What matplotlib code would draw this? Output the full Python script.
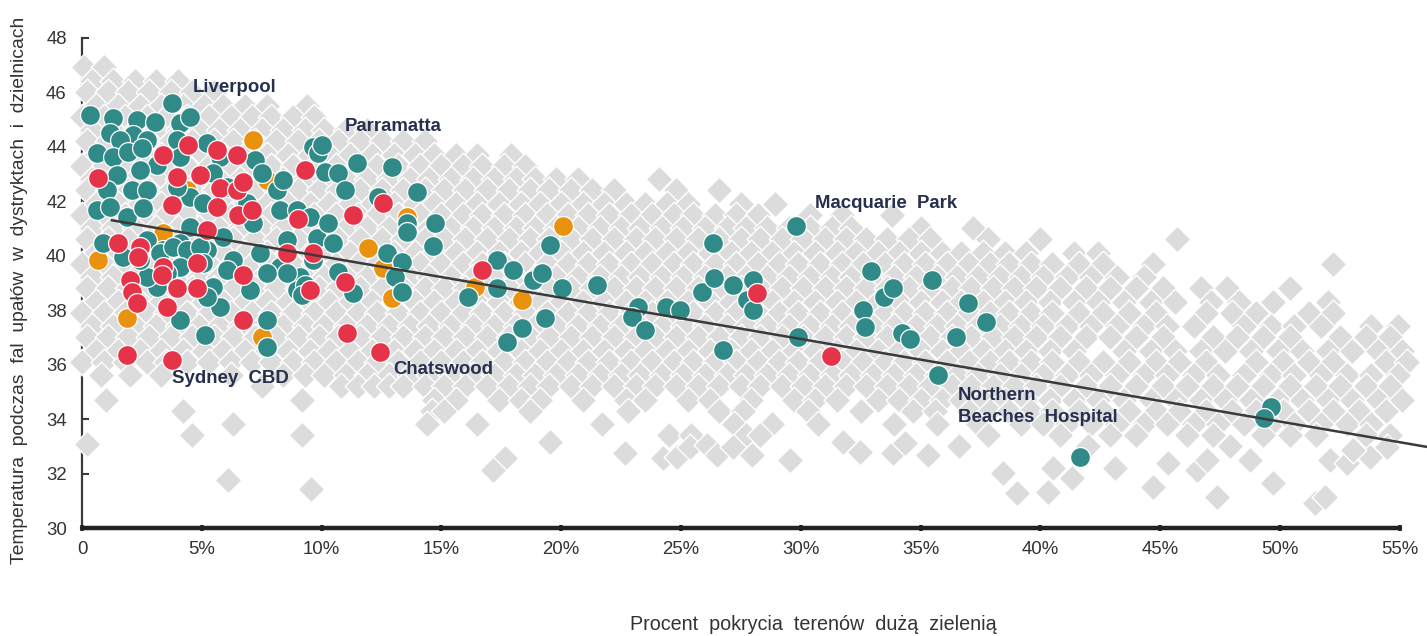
import matplotlib
matplotlib.use("Agg")
import matplotlib.pyplot as plt

# ---------------- data ----------------
# coloured circles (x = % green cover, y = temperature)
teal_x = [0.33, 3.76, 1.29, 2.3, 3.05, 4.09, 4.51, 1.17, 2.13, 2.71, 1.59, 0.63, 1.29, 1.92, 2.5, 3.97, 4.09, 3.13,
          1.46, 1.04, 2.09, 2.71, 2.42, 0.63, 1.17, 1.88, 2.55, 4.51, 5.05, 3.97, 5.22, 5.76, 7.22, 7.51, 8.14, 8.26,
          8.39, 9.64, 9.81, 4.51, 5.88, 4.09, 3.38, 0.88, 5.22, 7.43, 8.26, 6.3, 7.14, 6.89, 6.05, 5.47,
          1.71, 2.71, 3.26, 3.8, 4.38, 4.92, 5.05, 4.09, 3.55, 3.13, 2.71, 2.42, 6.05, 5.47, 5.76, 5.22, 4.09, 5.13,
          7.72, 7.01, 7.72, 7.72, 8.56, 9.1, 8.97, 9.64,
          9.85, 10.02, 10.14, 10.68, 10.98, 11.48, 12.94, 13.98, 12.35, 8.97, 9.52, 10.27, 10.48, 8.56, 9.31, 9.18,
          10.68, 11.31, 12.73, 13.36, 13.06, 13.36, 13.56, 13.56, 14.73, 14.65, 17.32, 17.99, 17.32, 16.11, 18.82,
          19.2, 20.03, 21.49, 19.53, 19.32, 18.36, 17.74,
          23.2, 22.95, 23.5, 24.37, 24.96, 25.88, 26.34, 26.38, 27.17, 28.0, 27.75, 28.0, 26.75, 29.8, 29.88, 32.93,
          32.6, 32.68, 33.47, 33.85, 34.22, 34.56, 35.48, 36.98, 36.48, 37.73, 35.73, 41.65, 49.62, 49.33]
teal_y = [45.16, 45.6, 45.05, 44.97, 44.9, 44.86, 45.08, 44.5, 44.42, 44.24, 44.24, 43.76, 43.61, 43.8, 43.94, 44.24,
          43.61, 43.32, 42.95, 42.4, 42.4, 42.4, 43.14, 41.67, 41.78, 41.41, 41.74, 42.15, 41.93, 42.51, 44.13, 43.61,
          43.5, 43.03, 42.4, 41.67, 42.77, 43.98, 40.64, 41.05, 40.68, 40.46, 40.2, 40.46, 40.2, 40.09, 39.58, 39.83,
          41.19, 41.93, 42.51, 43.03,
          39.94, 40.57, 40.09, 40.31, 40.2, 40.31, 39.72, 39.58, 39.36, 38.84, 39.21, 39.83, 39.47, 38.84, 38.11,
          38.48, 37.63, 37.08, 39.36, 38.73, 37.63, 36.64, 40.57, 39.21, 38.73, 39.83,
          43.76, 44.06, 43.06, 43.03, 42.4, 43.39, 43.25, 42.33, 42.15, 41.67, 41.41, 41.19, 40.46, 39.36, 38.92,
          38.55, 39.4, 38.62, 40.09, 39.76, 39.21, 38.66, 41.19, 40.86, 41.19, 40.35, 39.83, 39.47, 38.81, 38.48,
          39.1, 39.36, 38.81, 38.92, 40.39, 37.71, 37.34, 36.83,
          38.11, 37.74, 37.27, 38.11, 38.0, 38.66, 40.46, 39.17, 38.92, 39.1, 38.37, 38.0, 36.53, 41.08, 37.01, 39.43,
          38.0, 37.38, 38.48, 38.81, 37.16, 36.94, 39.1, 38.26, 37.01, 37.56, 35.61, 32.6, 34.44, 34.04]

red_x = [0.67, 3.38, 4.42, 5.63, 6.47, 3.97, 4.92, 5.76, 6.47, 6.72, 3.76, 5.63, 6.51, 7.1, 5.22, 1.5, 2.42, 9.02,
         9.31, 9.64, 8.56, 4.8, 3.38, 2.34, 2.0, 2.09, 2.3, 3.34, 3.97, 4.8, 3.55, 6.72, 6.72, 1.88, 3.76, 9.52,
         12.56, 11.31, 10.98, 11.06, 12.44, 16.69, 28.17, 31.26]
red_y = [42.84, 43.69, 44.06, 43.87, 43.69, 42.88, 42.95, 42.48, 42.4, 42.7, 41.85, 41.78, 41.49, 41.67, 40.94, 40.46,
         40.31, 41.34, 43.14, 40.09, 40.09, 39.72, 39.58, 39.94, 39.1, 38.66, 38.26, 39.28, 38.81, 38.81, 38.11,
         39.28, 37.63, 36.35, 36.17, 38.73, 41.93, 41.49, 39.03, 37.16, 36.46, 39.47, 38.62, 36.31]

orange_x = [7.14, 0.67, 4.38, 7.72, 3.38, 1.88, 7.51, 13.56, 11.94, 12.56, 12.94, 16.4, 18.36, 20.08]
orange_y = [44.24, 39.83, 42.4, 42.77, 40.83, 37.71, 37.01, 41.41, 40.28, 39.54, 38.44, 38.84, 38.37, 41.1]

# grey diamonds, read row by row (upper band / core band / lower band)
grey_upper_y = [46.9, 46.4, 46.0, 45.5, 45.1, 44.6, 44.2, 43.7, 43.3, 42.8, 42.4, 41.9, 41.5]
grey_upper_x = [
    [0.1, 0.9],
    [0.4, 1.3, 2.2, 3.1, 4.0],
    [0.2, 1.1, 1.9, 2.8, 3.7, 4.6, 5.5],
    [0.6, 1.5, 2.4, 3.3, 4.2, 5.1, 5.9, 6.8, 7.7, 9.4],
    [0.0, 0.9, 1.8, 2.7, 3.5, 4.4, 5.3, 6.2, 7.1, 7.9, 8.8, 9.7],
    [0.4, 1.3, 2.2, 3.1, 4.0, 4.9, 5.7, 6.6, 7.5, 8.4, 9.3, 10.1, 11.0, 11.9],
    [0.2, 1.1, 1.9, 2.8, 3.7, 4.6, 5.5, 6.3, 7.2, 8.1, 9.0, 9.9, 10.7, 11.6, 12.5, 13.4, 14.3],
    [0.6, 1.5, 2.4, 3.3, 4.2, 5.1, 5.9, 6.8, 7.7, 8.6, 9.5, 10.3, 11.2, 12.1, 13.0, 13.9, 14.7, 15.6, 16.5, 17.9],
    [0.0, 0.9, 1.8, 2.7, 3.5, 4.4, 5.3, 6.2, 7.1, 7.9, 8.8, 9.7, 10.6, 11.5, 12.3, 13.2, 14.1, 15.0, 15.9, 16.7,
     17.6, 18.5],
    [0.4, 1.3, 2.2, 3.1, 4.0, 4.9, 5.7, 6.6, 7.5, 8.4, 9.3, 10.1, 11.0, 11.9, 12.8, 13.7, 14.5, 15.4, 16.3, 17.2,
     18.1, 18.9, 19.8, 20.7, 24.1],
    [0.2, 1.1, 1.9, 2.8, 3.7, 4.6, 5.5, 6.3, 7.2, 8.1, 9.0, 9.9, 10.7, 11.6, 12.5, 13.4, 14.3, 15.1, 16.0, 16.9,
     17.8, 18.7, 19.5, 20.4, 21.3, 22.2, 24.8, 26.6],
    [0.6, 1.5, 2.4, 3.3, 4.2, 5.1, 5.9, 6.8, 7.7, 8.6, 9.5, 10.3, 11.2, 12.1, 13.0, 13.9, 14.7, 15.6, 16.5, 17.4,
     18.3, 19.1, 20.0, 20.9, 21.8, 22.7, 23.5, 24.4, 25.3, 27.5, 28.9],
    [0.0, 0.9, 1.8, 2.7, 3.5, 4.4, 5.3, 6.2, 7.1, 7.9, 8.8, 9.7, 10.6, 11.5, 12.3, 13.2, 14.1, 15.0, 15.9, 16.7,
     17.6, 18.5, 19.4, 20.3, 21.1, 22.0, 22.9, 23.8, 24.7, 25.5, 26.4, 27.3, 28.2, 30.4, 31.7, 33.8],
]

grey_core_y = [41.0, 40.6, 40.1, 39.7, 39.2, 38.8, 38.3, 37.9, 37.4, 37.0, 36.5, 36.1]
grey_core_x = [
    [0.4, 1.3, 2.2, 3.1, 4.0, 4.9, 5.7, 6.6, 7.5, 8.4, 9.3, 10.1, 11.0, 11.9, 12.8, 13.7, 14.5, 15.4, 16.3, 17.2,
     18.1, 18.9, 19.8, 20.7, 21.6, 22.5, 23.3, 24.2, 25.1, 26.0, 26.9, 27.7, 28.6, 29.5, 30.4, 31.3, 32.1, 35.0,
     37.2],
    [0.2, 1.1, 1.9, 2.8, 3.7, 4.6, 5.5, 6.3, 7.2, 8.1, 9.0, 9.9, 10.7, 11.6, 12.5, 13.4, 14.3, 15.1, 16.0, 16.9,
     17.8, 18.7, 19.5, 20.4, 21.3, 22.2, 23.1, 23.9, 24.8, 25.7, 26.6, 27.5, 28.3, 29.2, 30.1, 31.0, 31.9, 32.7,
     33.6, 34.5, 35.4, 37.8, 40.0, 45.7],
    [0.6, 1.5, 2.4, 3.3, 4.2, 5.1, 5.9, 6.8, 7.7, 8.6, 9.5, 10.3, 11.2, 12.1, 13.0, 13.9, 14.7, 15.6, 16.5, 17.4,
     18.3, 19.1, 20.0, 20.9, 21.8, 22.7, 23.5, 24.4, 25.3, 26.2, 27.1, 27.9, 28.8, 29.7, 30.6, 31.5, 32.3, 33.2,
     34.1, 35.0, 35.9, 36.7, 37.6, 38.5, 39.4, 41.4, 42.4],
    [0.0, 0.9, 1.8, 2.7, 3.5, 4.4, 5.3, 6.2, 7.1, 7.9, 8.8, 9.7, 10.6, 11.5, 12.3, 13.2, 14.1, 15.0, 15.9, 16.7,
     17.6, 18.5, 19.4, 20.3, 21.1, 22.0, 22.9, 23.8, 24.7, 25.5, 26.4, 27.3, 28.2, 29.1, 29.9, 30.8, 31.7, 32.6,
     33.5, 34.3, 35.2, 36.1, 37.0, 37.9, 38.7, 39.6, 40.5, 41.6, 42.6, 44.7, 52.2],
    [0.4, 1.3, 2.2, 3.1, 4.0, 4.9, 5.7, 6.6, 7.5, 8.4, 9.3, 10.1, 11.0, 11.9, 12.8, 13.7, 14.5, 15.4, 16.3, 17.2,
     18.1, 18.9, 19.8, 20.7, 21.6, 22.5, 23.3, 24.2, 25.1, 26.0, 26.9, 27.7, 28.6, 29.5, 30.4, 31.3, 32.1, 33.0,
     33.9, 34.8, 35.7, 36.5, 37.4, 38.3, 39.2, 40.1, 41.1, 42.1, 43.2, 44.3],
    [0.2, 1.1, 1.9, 2.8, 3.7, 4.6, 5.5, 6.3, 7.2, 8.1, 9.0, 9.9, 10.7, 11.6, 12.5, 13.4, 14.3, 15.1, 16.0, 16.9,
     17.8, 18.7, 19.5, 20.4, 21.3, 22.2, 23.1, 23.9, 24.8, 25.7, 26.6, 27.5, 28.3, 29.2, 30.1, 31.0, 31.9, 32.7,
     33.6, 34.5, 35.4, 36.3, 37.1, 38.0, 38.9, 39.8, 40.8, 41.9, 42.9, 44.0, 45.1, 46.7, 47.8, 50.4],
    [0.6, 1.5, 2.4, 3.3, 4.2, 5.1, 5.9, 6.8, 7.7, 8.6, 9.5, 10.3, 11.2, 12.1, 13.0, 13.9, 14.7, 15.6, 16.5, 17.4,
     18.3, 19.1, 20.0, 20.9, 21.8, 22.7, 23.5, 24.4, 25.3, 26.2, 27.1, 27.9, 28.8, 29.7, 30.6, 31.5, 32.3, 33.2,
     34.1, 35.0, 35.9, 36.7, 37.6, 38.5, 39.4, 40.4, 41.4, 42.4, 43.5, 44.6, 45.6, 47.1, 48.3, 49.7, 52.0],
    [0.0, 0.9, 1.8, 2.7, 3.5, 4.4, 5.3, 6.2, 7.1, 7.9, 8.8, 9.7, 10.6, 11.5, 12.3, 13.2, 14.1, 15.0, 15.9, 16.7,
     17.6, 18.5, 19.4, 20.3, 21.1, 22.0, 22.9, 23.8, 24.7, 25.5, 26.4, 27.3, 28.2, 29.1, 29.9, 30.8, 31.7, 32.6,
     33.5, 34.3, 35.2, 36.1, 37.0, 37.9, 38.7, 39.6, 40.5, 41.6, 42.6, 43.7, 44.8, 46.9, 48.0, 49.0, 51.2, 52.2],
    [0.4, 1.3, 2.2, 3.1, 4.0, 4.9, 5.7, 6.6, 7.5, 8.4, 9.3, 10.1, 11.0, 11.9, 12.8, 13.7, 14.5, 15.4, 16.3, 17.2,
     18.1, 18.9, 19.8, 20.7, 21.6, 22.5, 23.3, 24.2, 25.1, 26.0, 26.9, 27.7, 28.6, 29.5, 30.4, 31.3, 32.1, 33.0,
     33.9, 34.8, 35.7, 36.5, 37.4, 38.3, 39.2, 40.1, 41.1, 42.1, 43.2, 44.3, 45.3, 46.4, 48.5, 49.6, 50.6, 51.7,
     53.8, 54.9],
    [0.2, 1.1, 1.9, 2.8, 3.7, 4.6, 5.5, 6.3, 7.2, 8.1, 9.0, 9.9, 10.7, 11.6, 12.5, 13.4, 14.3, 15.1, 16.0, 16.9,
     17.8, 18.7, 19.5, 20.4, 21.3, 22.2, 23.1, 23.9, 24.8, 25.7, 26.6, 27.5, 28.3, 29.2, 30.1, 31.0, 31.9, 32.7,
     33.6, 34.5, 35.4, 36.3, 37.1, 38.0, 38.9, 39.8, 40.8, 41.9, 42.9, 44.0, 45.1, 47.2, 48.2, 49.3, 50.4, 52.5,
     53.6, 54.6],
    [0.6, 1.5, 2.4, 3.3, 4.2, 5.1, 5.9, 6.8, 7.7, 8.6, 9.5, 10.3, 11.2, 12.1, 13.0, 13.9, 14.7, 15.6, 16.5, 17.4,
     18.3, 19.1, 20.0, 20.9, 21.8, 22.7, 23.5, 24.4, 25.3, 26.2, 27.1, 27.9, 28.8, 29.7, 30.6, 31.5, 32.3, 33.2,
     34.1, 35.0, 35.9, 36.7, 37.6, 38.5, 39.4, 40.4, 41.4, 43.5, 44.6, 45.6, 46.7, 47.7, 48.8, 49.9, 50.9, 52.0,
     53.0, 54.1, 55.1],
    [0.0, 0.9, 1.8, 2.7, 3.5, 4.4, 5.3, 6.2, 7.1, 7.9, 8.8, 9.7, 10.6, 11.5, 12.3, 13.2, 14.1, 15.0, 15.9, 16.7,
     17.6, 18.5, 19.4, 20.3, 21.1, 22.0, 22.9, 23.8, 24.7, 25.5, 26.4, 27.3, 28.2, 29.1, 29.9, 30.8, 31.7, 32.6,
     33.5, 34.3, 35.2, 36.1, 37.0, 37.9, 38.7, 39.6, 40.5, 41.6, 42.6, 43.7, 44.8, 45.8, 46.9, 49.0, 50.1, 51.2,
     52.2, 54.4, 55.3],
]

grey_lower_y = [35.6, 35.2, 34.7, 34.3, 33.8, 33.4]
grey_lower_x = [
    [0.8, 2.0, 3.3, 6.2, 8.4, 9.3, 10.1, 11.0, 11.9, 12.8, 13.7, 14.5, 15.4, 16.3, 17.2, 18.1, 18.9, 19.8, 20.7,
     21.6, 22.5, 23.3, 24.2, 25.1, 26.0, 26.9, 27.7, 28.6, 29.5, 30.4, 31.3, 32.1, 33.0, 33.9, 34.8, 35.7, 36.5,
     37.4, 38.3, 39.2, 40.1, 41.1, 42.1, 43.2, 44.3, 45.3, 46.4, 47.4, 48.5, 49.6, 50.6, 51.7, 52.8, 53.8, 54.9],
    [7.5, 10.8, 11.5, 12.2, 12.8, 13.4, 14.3, 15.1, 16.0, 16.9, 17.8, 18.7, 19.5, 20.4, 21.3, 22.2, 23.1, 23.9,
     24.8, 25.7, 26.6, 27.5, 28.3, 29.2, 30.1, 31.0, 31.9, 32.7, 33.6, 34.5, 35.4, 36.3, 37.1, 38.0, 38.9, 39.8,
     40.8, 41.9, 42.9, 44.0, 45.1, 46.1, 47.2, 48.2, 49.3, 50.4, 51.5, 52.5, 53.6, 54.6],
    [1.0, 9.2, 14.7, 15.6, 17.4, 18.3, 19.1, 20.9, 22.7, 23.5, 25.3, 26.2, 27.9, 29.7, 30.6, 31.5, 33.2, 34.1,
     35.0, 35.9, 36.7, 37.6, 38.5, 39.4, 40.4, 41.4, 42.4, 43.5, 44.6, 45.6, 46.7, 47.7, 48.8, 49.9, 50.9, 52.0,
     53.0, 54.1, 55.1],
    [4.2, 14.6, 15.1, 18.7, 22.8, 26.6, 27.6, 30.3, 32.5, 34.7, 35.6, 37.0, 37.9, 38.7, 39.6, 40.5, 41.6, 42.6,
     43.7, 44.8, 45.8, 46.9, 48.0, 49.0, 50.1, 51.2, 52.2, 53.3, 54.4],
    [6.3, 14.4, 16.5, 21.7, 27.2, 28.8, 30.7, 33.9, 35.7, 37.4, 39.2, 40.1, 41.1, 42.1, 43.2, 44.3, 45.3, 46.4,
     47.4, 48.5, 49.6, 50.6, 51.7, 52.8, 53.8],
    [4.6, 9.2, 24.5, 25.4, 27.7, 28.3, 37.8, 40.8, 42.9, 44.0, 46.1, 47.2, 49.3, 50.4, 51.5, 53.6, 54.6],
]

# isolated grey diamonds below the main band
grey_sparse_x = [0.2, 6.1, 9.56, 17.65, 17.15, 19.53, 22.66, 24.25, 24.83, 25.38, 26.08, 26.5, 27.17, 27.96, 29.55,
                 31.76, 32.47, 33.85, 34.35, 35.31, 38.44, 39.02, 40.32, 40.53, 41.32, 43.1, 42.0, 44.7, 45.33, 46.54,
                 46.95, 47.37, 49.71, 51.46, 51.88, 48.75, 52.09, 52.8, 53.76, 54.47, 53.05, 36.6, 47.9]
grey_sparse_y = [33.1, 31.76, 31.43, 32.57, 32.13, 33.16, 32.75, 32.57, 32.6, 32.97, 33.05, 32.68, 32.97, 32.68, 32.5,
                 33.16, 32.79, 32.75, 33.12, 32.68, 32.02, 31.28, 31.32, 32.2, 31.83, 32.2, 33.0, 31.5, 32.39, 32.13,
                 32.5, 31.14, 31.65, 30.92, 31.14, 32.5, 32.5, 32.39, 32.6, 32.97, 32.86, 33.0, 33.0]

# regression line end points
trend_x = [1.2, 56.3]
trend_y = [41.3, 32.95]

# labels
label_text = ["Liverpool", "Parramatta", "Macquarie  Park", "Sydney  CBD", "Chatswood",
              "Northern\nBeaches  Hospital"]
label_x = [4.63, 10.98, 30.59, 3.76, 12.98, 36.56]
label_y = [46.18, 44.75, 41.89, 35.47, 35.83, 34.45]

x_ticks = [0, 5, 10, 15, 20, 25, 30, 35, 40, 45, 50, 55]
x_tick_labels = ["0", "5%", "10%", "15%", "20%", "25%", "30%", "35%", "40%", "45%", "50%", "55%"]
y_ticks = [30, 32, 34, 36, 38, 40, 42, 44, 46, 48]

# ---------------- drawing ----------------
plt.rcParams['font.family'] = ['Liberation Sans', 'DejaVu Sans']

W, H = 1427, 636
fig = plt.figure(figsize=(W / 100, H / 100), dpi=100)
ax = fig.add_axes([46.06 / W, (636 - 555.25) / H, (1427 - 46.06) / W, (555.25 - 10.25) / H])
ax.set_xlim(-1.5, 56.13)
ax.set_ylim(29, 49)

GREY = '#dcdcdc'
gx, gy = [], []
for ys, xs in ((grey_upper_y, grey_upper_x), (grey_core_y, grey_core_x), (grey_lower_y, grey_lower_x)):
    for yv, row in zip(ys, xs):
        gx.extend(row)
        gy.extend([yv] * len(row))
gx.extend(grey_sparse_x)
gy.extend(grey_sparse_y)
ax.scatter(gx, gy, marker='D', s=185, c=GREY, edgecolors='white', linewidths=1.0, zorder=1, clip_on=False)

ax.scatter(orange_x, orange_y, marker='o', s=205, c='#e8920f', edgecolors='white', linewidths=0.9, zorder=2)
ax.scatter(teal_x, teal_y, marker='o', s=205, c='#2f8a88', edgecolors='white', linewidths=0.9, zorder=2.1)
ax.scatter(red_x, red_y, marker='o', s=205, c='#e5344a', edgecolors='white', linewidths=0.9, zorder=2.2)

ax.plot(trend_x, trend_y, color='#3a3a3a', lw=1.8, zorder=3, solid_capstyle='butt')

for t, x, y in zip(label_text, label_x, label_y):
    ax.text(x, y, t, ha='left', va='center', fontsize=13.4, fontweight='bold', color='#272f4f',
            linespacing=1.38, zorder=4)

for s in ('top', 'right'):
    ax.spines[s].set_visible(False)
ax.spines['left'].set_position(('data', 0))
ax.spines['left'].set_bounds(30, 48)
ax.spines['left'].set_color('#3a3a3a')
ax.spines['left'].set_linewidth(1.6)
ax.spines['left'].set_zorder(0.5)
ax.spines['bottom'].set_position(('data', 30))
ax.spines['bottom'].set_bounds(0, 55)
ax.spines['bottom'].set_color('#222222')
ax.spines['bottom'].set_linewidth(3.2)
ax.spines['bottom'].set_capstyle('round')
ax.spines['bottom'].set_zorder(6)

ax.set_xticks(x_ticks)
ax.set_xticklabels(x_tick_labels)
ax.set_yticks(y_ticks)
ax.tick_params(axis='x', direction='inout', length=4, width=2.6, color='#222222', pad=7,
               labelsize=13.4, labelcolor='#333333')
ax.tick_params(axis='y', direction='in', length=5, width=1.5, color='#3a3a3a', pad=11,
               labelsize=13.4, labelcolor='#333333')
ax.xaxis.set_zorder(7)
ax.yaxis.set_zorder(0.5)
ax.patch.set_visible(False)

fig.text(20 / W, 1 - 290 / H, "Temperatura  podczas  fal  upałów  w  dystryktach  i  dzielnicach",
         rotation=90, ha='center', va='center', fontsize=13.9, color='#333333')
fig.text(813 / W, 1 - 624 / H, "Procent  pokrycia  terenów  dużą  zielenią",
         ha='center', va='center', fontsize=14.2, color='#333333')

fig.savefig('out.png', dpi=100)
